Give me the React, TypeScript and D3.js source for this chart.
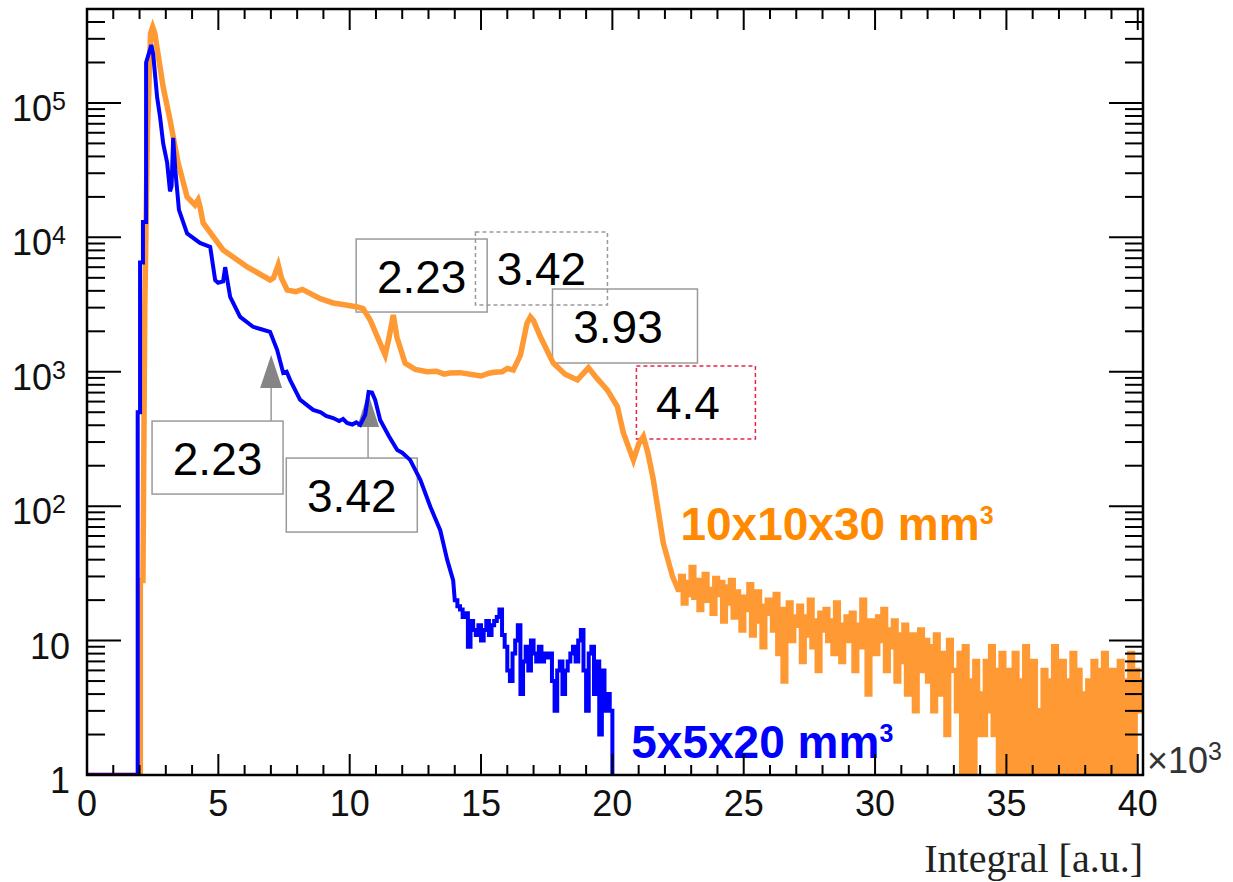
import React, { useEffect, useRef } from 'react';
import * as d3 from 'd3';

// canvas + frame (pixels)
const W = 1233;
const H = 882;
const frame = { left: 87, right: 1143, top: 9, bottom: 775 };

const xDomain = [0, 40.2];
const yDomain = [1, 5e5];
const xMajorTicks = [0, 5, 10, 15, 20, 25, 30, 35, 40];
const yDecades = [1, 10, 100, 1000, 10000, 100000];

// 5x5x20 mm3 crystal: smooth part as [integral (x1e3), counts]
const blueSmooth: [number, number][] = [
  [0, 1], [1.93, 1], [1.93, 500], [2.02, 500], [2.02, 6500], [2.13, 6500], [2.13, 13000],
  [2.25, 13000], [2.25, 200000], [2.45, 270000], [2.52, 230000], [2.67, 110000], [2.78, 79000],
  [2.9, 50000], [3.05, 36000], [3.16, 22000], [3.22, 24000], [3.28, 55000], [3.36, 32000],
  [3.5, 16000], [3.81, 10700], [4.3, 9100], [4.69, 8500], [4.88, 4800], [4.99, 4600],
  [5.18, 4700], [5.26, 6000], [5.45, 3600], [5.83, 2560], [6.32, 2160], [6.6, 2080],
  [6.97, 1980], [7.24, 1450], [7.47, 980], [7.6, 1000], [7.73, 870], [8.11, 620], [8.4, 560],
  [8.61, 520], [8.9, 500], [9.1, 470], [9.37, 453], [9.6, 430], [9.75, 445], [9.9, 416],
  [10.1, 405], [10.25, 420], [10.4, 402], [10.59, 477], [10.72, 707], [10.85, 700],
  [10.97, 617], [11.16, 438], [11.5, 330], [11.81, 262], [12.0, 250], [12.3, 221],
  [12.69, 157], [13.07, 99], [13.45, 66], [13.71, 40], [13.94, 28],
];
// noisy tail, bins of 0.1 starting at 14.0
const blueTailStart = 14.0;
const blueTail = [
  20, 18, 17, 15, 16, 9, 14, 12, 11, 13,
  10, 12, 14, 11, 13, 14, 15, 17, 11, 9,
  6, 5, 8, 10, 13, 4, 7, 9, 6, 10,
  8, 7, 9, 7, 8, 7.5, 8, 5, 3, 6,
  7, 4, 6, 7, 8, 9, 7, 10, 12, 6,
  3, 8, 9, 4, 7, 2, 6, 3, 4, 3,
  0,
];

// 10x10x30 mm3 crystal
const orangeSmooth: [number, number][] = [
  [0, 1], [2.03, 1], [2.03, 28], [2.13, 28], [2.2, 3000], [2.3, 60000], [2.42, 330000],
  [2.5, 367000], [2.58, 330000], [2.9, 131000], [3.16, 75000], [3.47, 35800], [3.81, 20000],
  [4.11, 17400], [4.23, 19000], [4.3, 17000], [4.42, 12800], [5.18, 8060], [6.1, 6030],
  [6.97, 4820], [7.1, 5000], [7.28, 6240], [7.4, 5000], [7.62, 4060], [7.95, 3950],
  [8.2, 4100], [8.38, 3930], [8.88, 3500], [9.37, 3250], [9.8, 3150], [10.29, 3030],
  [10.51, 2950], [10.78, 2430], [11.35, 1330], [11.5, 1800], [11.66, 2650], [11.8, 1800],
  [12.11, 1160], [12.5, 1040], [12.95, 1000], [13.3, 1010], [13.6, 960], [13.8, 980],
  [14.2, 985], [14.7, 950], [15.0, 930], [15.3, 975], [15.5, 990], [15.8, 1000],
  [16.0, 1060], [16.23, 1030], [16.5, 1330], [16.75, 2300], [16.88, 2560], [17.0, 2400],
  [17.26, 1820], [17.75, 1160], [18.2, 960], [18.67, 870], [19.09, 1070], [19.4, 900],
  [19.81, 730], [20.19, 550], [20.42, 350], [20.8, 220], [21.0, 290], [21.18, 330],
  [21.35, 250], [21.56, 157], [21.94, 53], [22.29, 30],
];
const orangeTailStart = 22.5;
const orangeTail = [
  24, 30, 19, 27, 22,
  35, 21, 28, 17, 26, 31, 20, 24, 16, 29,
  22, 27, 14, 25, 19, 28, 15, 23, 20, 12,
  21, 17, 26, 11, 19, 23, 14, 9, 18, 20,
  16, 12, 22, 8, 17, 5, 14, 19, 10, 15,
  13, 18, 7, 15, 11, 20, 9, 14, 6, 16,
  12, 17, 10, 14, 8, 19, 11, 7, 13, 15,
  10, 16, 6, 13, 9, 20, 12, 4, 14, 11,
  8, 15, 10, 17, 6, 12, 9, 14, 5, 11,
  7, 13, 4, 9, 11, 3, 8, 12, 6, 10,
  5, 9, 3, 11, 7, 4, 8, 2, 10, 6,
  6, 3, 8, 0, 9, 0, 5, 0, 7, 2,
  4, 2, 7, 3, 9, 2, 6, 0, 8, 0,
  0, 6, 0, 8, 0, 5, 0, 9, 0, 4,
  7, 0, 3, 0, 6, 0, 5, 0, 9, 0,
  2, 7, 0, 5, 0, 8, 0, 6, 0, 4,
  0, 5, 0, 7, 0, 6, 0, 8, 0, 4,
  6, 0, 2, 7, 0, 5, 0, 8, 0, 6,
  5, 3,
];
const binWidth = 0.1;

// peak energy boxes (MeV), centred at data coords
const peakBoxes = [
  { label: '2.23', x: 12.74, y: 5200, w: 131, h: 73, stroke: '#9a9a9a', dash: '', dx: 0 },
  { label: '3.42', x: 17.3, y: 5870, w: 132, h: 73, stroke: '#9a9a9a', dash: '4,3', dx: 0 },
  { label: '3.93', x: 20.48, y: 2190, w: 145, h: 74, stroke: '#9a9a9a', dash: '', dx: -7 },
  { label: '4.4', x: 23.18, y: 591, w: 119, h: 73, stroke: '#e8234a', dash: '4,3', dx: -8 },
  { label: '2.23', x: 4.97, y: 230, w: 131, h: 73, stroke: '#9a9a9a', dash: '', dx: 0 },
  { label: '3.42', x: 10.08, y: 121, w: 131, h: 74, stroke: '#9a9a9a', dash: '', dx: 0 },
];
const peakArrows = [
  { box: 4, x: 7.01, tip: 1330, base: 757 },
  { box: 5, x: 10.7, tip: 696, base: 388 },
];
const seriesLabels = [
  { text: '10x10x30 mm', sup: '3', x: 22.59, y: 56, color: '#ff8a00' },
  { text: '5x5x20 mm', sup: '3', x: 20.72, y: 1.34, color: '#0000ff' },
];

const sans = '"Liberation Sans", Arial, Helvetica, sans-serif';

function tailPoints(start: number, counts: number[]): [number, number][] {
  const pts: [number, number][] = [];
  counts.forEach((c, i) => {
    const x0 = start + i * binWidth;
    pts.push([x0, c], [x0 + binWidth, c]);
  });
  return pts;
}

function drawChart(container: SVGSVGElement) {
  const svg = d3.select(container);
  svg.selectAll('*').remove();

  const x = d3.scaleLinear().domain(xDomain).range([frame.left, frame.right]);
  const y = d3.scaleLog().domain(yDomain).range([frame.bottom, frame.top]);

  svg.append('rect').attr('width', W).attr('height', H).attr('fill', '#fff');

  svg.append('clipPath').attr('id', 'plotclip')
    .append('rect')
    .attr('x', frame.left).attr('y', frame.top)
    .attr('width', frame.right - frame.left).attr('height', frame.bottom - frame.top);

  // annotation boxes (behind curves)
  const boxG = svg.append('g');
  peakBoxes.forEach(b => {
    const cx = x(b.x), cy = y(b.y);
    boxG.append('rect')
      .attr('x', cx - b.w / 2).attr('y', cy - b.h / 2)
      .attr('width', b.w).attr('height', b.h)
      .attr('fill', 'none')
      .attr('stroke', b.stroke)
      .attr('stroke-width', 1.5)
      .attr('stroke-dasharray', b.dash || null);
    boxG.append('text')
      .attr('x', cx + b.dx).attr('y', cy + 17)
      .attr('text-anchor', 'middle')
      .attr('font-family', sans)
      .attr('font-size', 46)
      .attr('fill', '#000')
      .text(b.label);
  });

  peakArrows.forEach(a => {
    const b = peakBoxes[a.box];
    const ax = x(a.x);
    const boxTop = y(b.y) - b.h / 2;
    boxG.append('line')
      .attr('x1', ax).attr('x2', ax)
      .attr('y1', boxTop).attr('y2', y(a.base))
      .attr('stroke', '#999').attr('stroke-width', 1.5);
    boxG.append('path')
      .attr('d', `M${ax},${y(a.tip)}L${ax + 11},${y(a.base)}L${ax - 11},${y(a.base)}Z`)
      .attr('fill', '#858585');
  });

  const line = d3.line<[number, number]>()
    .x(d => x(d[0]))
    .y(d => y(Math.max(d[1], 0.8)));

  const curves = svg.append('g').attr('clip-path', 'url(#plotclip)');

  curves.append('path')
    .attr('d', line([...orangeSmooth, ...tailPoints(orangeTailStart, orangeTail)]))
    .attr('fill', 'none')
    .attr('stroke', '#ff9933')
    .attr('stroke-width', 5.5);

  curves.append('path')
    .attr('d', line([...blueSmooth, ...tailPoints(blueTailStart, blueTail)]))
    .attr('fill', 'none')
    .attr('stroke', '#0000ff')
    .attr('stroke-width', 4);

  // series labels
  seriesLabels.forEach(s => {
    const t = svg.append('text')
      .attr('x', x(s.x)).attr('y', y(s.y))
      .attr('font-family', sans)
      .attr('font-weight', 'bold')
      .attr('font-size', 46)
      .attr('fill', s.color);
    t.append('tspan').text(s.text);
    t.append('tspan').attr('font-size', 25).attr('dy', -16).text(s.sup);
  });

  // frame + ticks
  const axisG = svg.append('g').attr('stroke', '#000');
  axisG.append('rect')
    .attr('x', frame.left).attr('y', frame.top)
    .attr('width', frame.right - frame.left).attr('height', frame.bottom - frame.top)
    .attr('fill', 'none').attr('stroke-width', 2.5);

  const xMinor = d3.range(0, 41, 1);
  xMinor.forEach(v => {
    const len = v % 5 === 0 ? 21 : 10;
    const px = x(v);
    axisG.append('line').attr('x1', px).attr('x2', px)
      .attr('y1', frame.bottom).attr('y2', frame.bottom - len).attr('stroke-width', 2);
    axisG.append('line').attr('x1', px).attr('x2', px)
      .attr('y1', frame.top).attr('y2', frame.top + len).attr('stroke-width', 2);
  });

  const yTicks: number[] = [];
  yDecades.forEach(d => { for (let k = 1; k <= 9; k++) if (d * k <= yDomain[1]) yTicks.push(d * k); });
  yTicks.forEach(v => {
    const major = yDecades.includes(v);
    const len = major ? 34 : 18;
    const py = y(v);
    axisG.append('line').attr('x1', frame.left).attr('x2', frame.left + len)
      .attr('y1', py).attr('y2', py).attr('stroke-width', 2);
    axisG.append('line').attr('x1', frame.right).attr('x2', frame.right - len)
      .attr('y1', py).attr('y2', py).attr('stroke-width', 2);
  });

  // tick labels
  const labels = svg.append('g').attr('font-family', sans).attr('font-size', 36).attr('fill', '#111');
  xMajorTicks.forEach(v => {
    labels.append('text')
      .attr('x', x(v)).attr('y', frame.bottom + 41)
      .attr('text-anchor', 'middle')
      .text(v);
  });
  yDecades.forEach(v => {
    const exp = Math.round(Math.log10(v));
    const t = labels.append('text')
      .attr('x', exp < 2 ? 70 : 66).attr('y', y(v) + 18)
      .attr('text-anchor', 'end');
    if (exp < 2) {
      t.text(v);
    } else {
      t.append('tspan').text('10');
      t.append('tspan').attr('font-size', 25).attr('dy', -11).text(exp);
    }
  });

  const mult = labels.append('text')
    .attr('x', frame.right + 4).attr('y', frame.bottom - 2)
    .attr('fill', '#333');
  mult.append('tspan').text('\u00d710');
  mult.append('tspan').attr('font-size', 25).attr('dy', -13).text('3');

  svg.append('text')
    .attr('x', frame.right).attr('y', 872)
    .attr('text-anchor', 'end')
    .attr('font-family', '"Liberation Serif", "Times New Roman", serif')
    .attr('font-size', 40)
    .attr('fill', '#222')
    .text('Integral [a.u.]');
}

const App = () => {
  const ref = useRef<SVGSVGElement>(null);

  useEffect(() => {
    if (ref.current) drawChart(ref.current);
  }, []);

  return (
    <svg
      ref={ref}
      width={W}
      height={H}
      style={{ position: 'absolute', left: 0, top: 0, display: 'block' }}
    />
  );
};

export default App;
